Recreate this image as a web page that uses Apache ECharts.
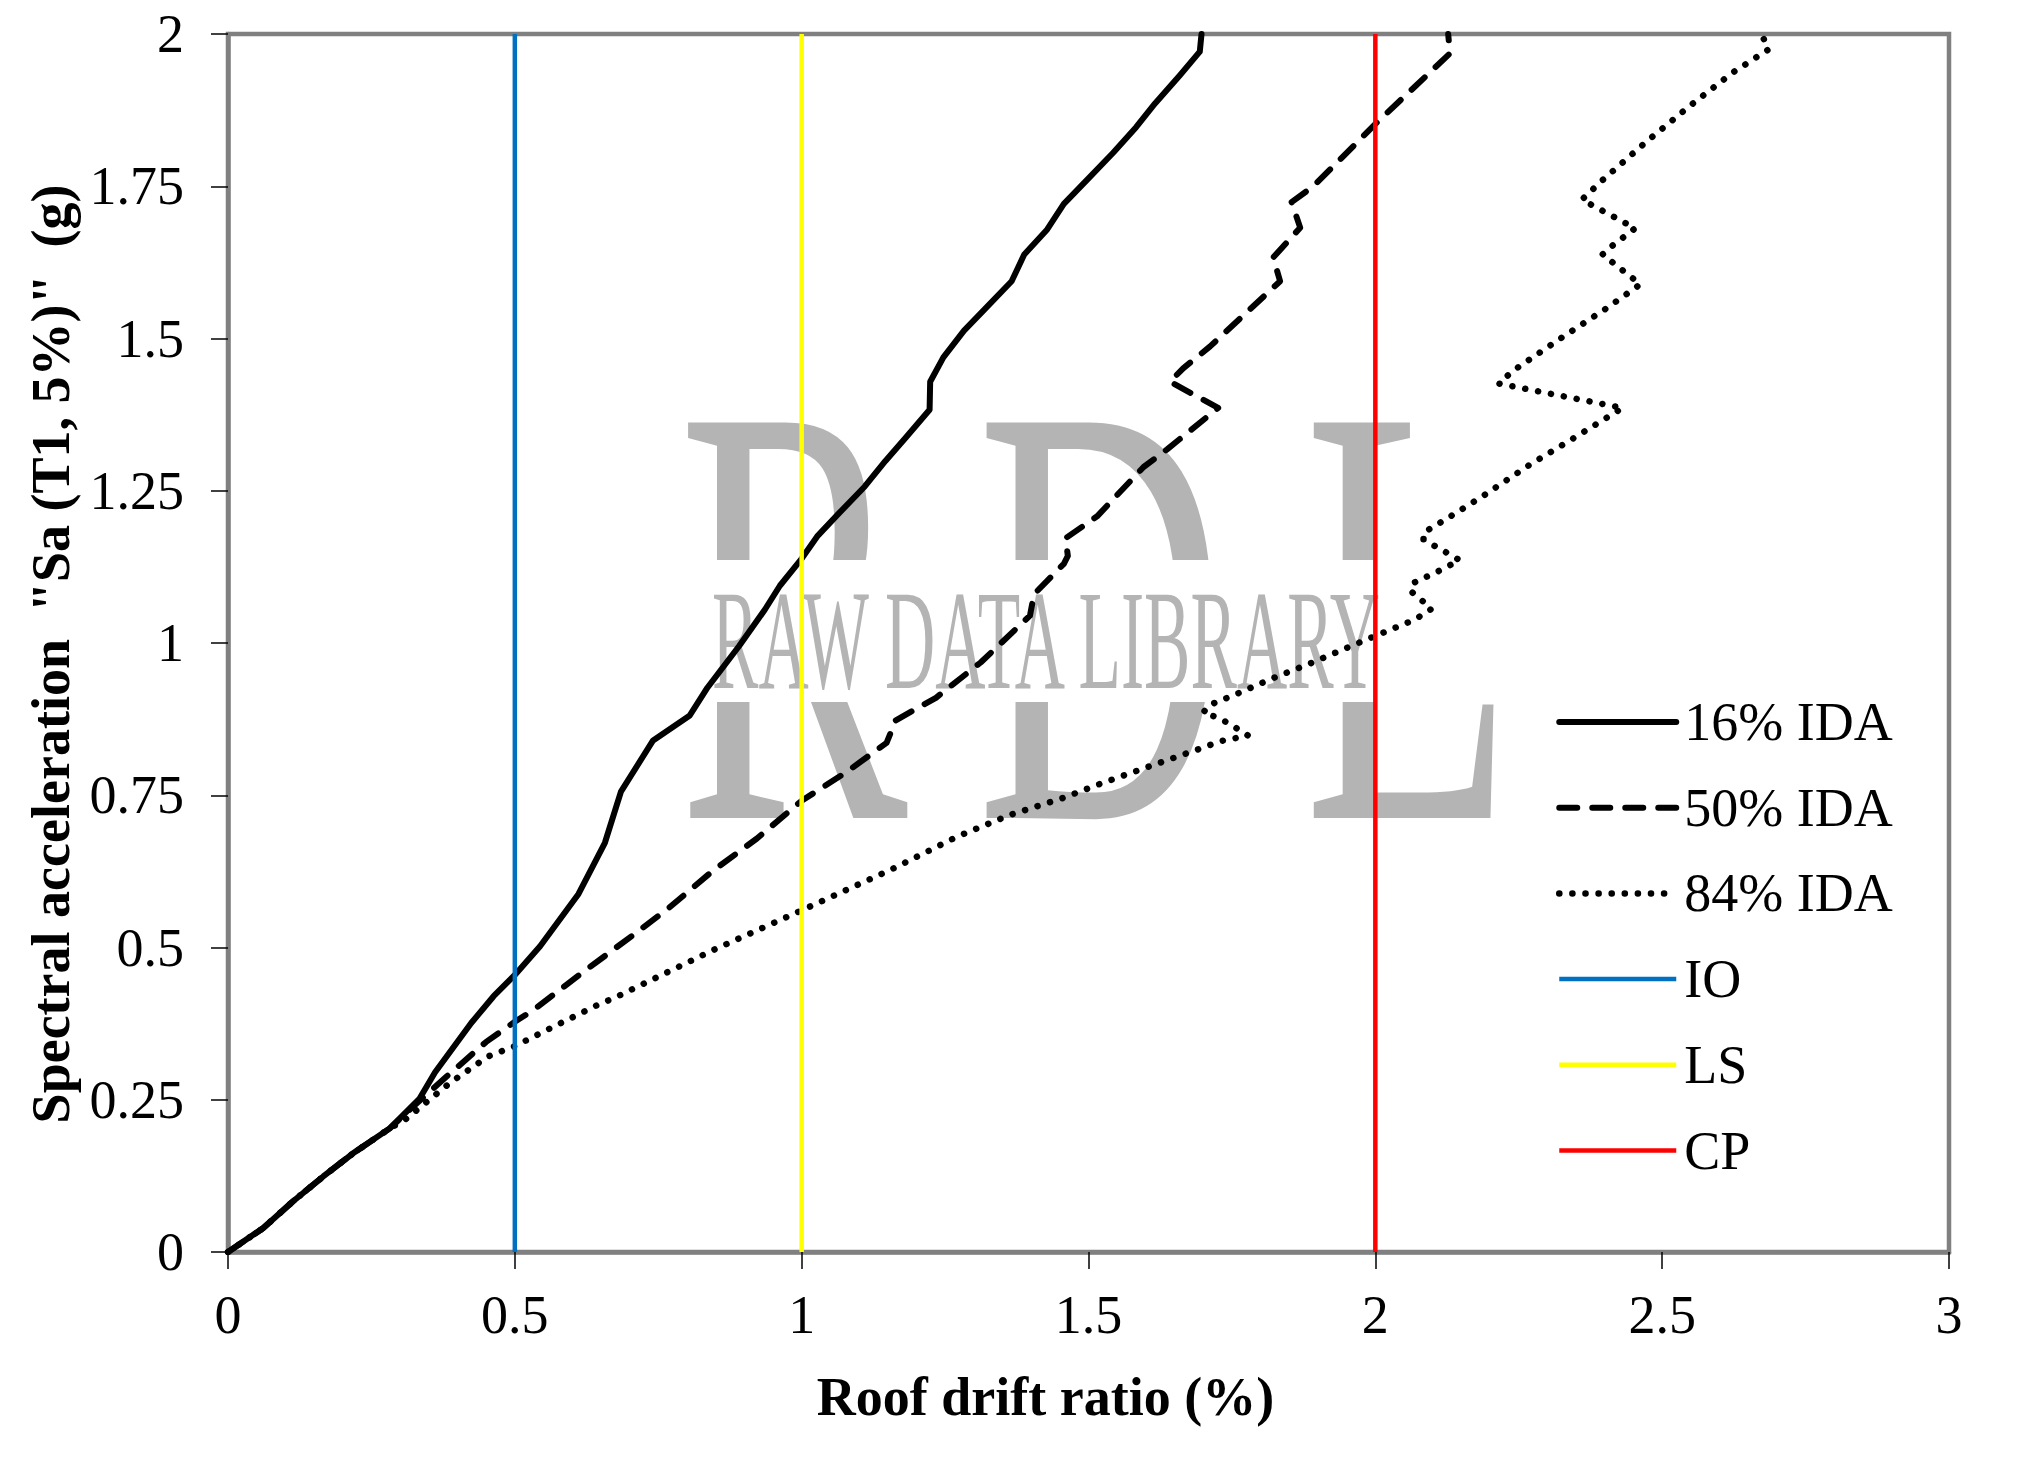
<!DOCTYPE html>
<html>
<head>
<meta charset="utf-8">
<script src="https://cdn.jsdelivr.net/npm/echarts@6/dist/echarts.min.js"></script>
<style>
html,body{margin:0;padding:0;background:#fff;}
#chart{width:2032px;height:1464px;}
</style>
</head>
<body>
<div id="chart"></div>
<script>
// Roof drift ratio (%) vs Sa (g)
const ida16 = [[0,0],[0.061,0.039],[0.113,0.083],[0.166,0.124],[0.218,0.162],[0.282,0.203],[0.334,0.252],[0.361,0.295],[0.424,0.376],[0.463,0.42],[0.5,0.455],[0.544,0.502],[0.611,0.588],[0.657,0.672],[0.685,0.756],[0.741,0.84],[0.805,0.881],[0.836,0.927],[0.891,0.995],[0.936,1.055],[0.962,1.094],[0.998,1.136],[1.027,1.175],[1.066,1.214],[1.11,1.257],[1.146,1.299],[1.182,1.338],[1.223,1.383],[1.224,1.429],[1.247,1.469],[1.283,1.513],[1.323,1.552],[1.366,1.594],[1.388,1.638],[1.428,1.679],[1.457,1.721],[1.5,1.763],[1.543,1.805],[1.583,1.847],[1.616,1.886],[1.659,1.932],[1.694,1.971],[1.697,2.0]];
const ida50 = [[0,0],[0.061,0.039],[0.113,0.083],[0.166,0.124],[0.218,0.162],[0.282,0.203],[0.33,0.245],[0.381,0.288],[0.45,0.345],[0.5,0.378],[0.532,0.397],[0.611,0.454],[0.704,0.519],[0.766,0.563],[0.844,0.625],[0.922,0.679],[1.0,0.741],[1.078,0.788],[1.148,0.836],[1.164,0.873],[1.234,0.91],[1.312,0.968],[1.398,1.045],[1.405,1.08],[1.457,1.13],[1.464,1.143],[1.46,1.172],[1.515,1.208],[1.596,1.289],[1.637,1.318],[1.726,1.386],[1.642,1.429],[1.665,1.451],[1.712,1.487],[1.834,1.594],[1.822,1.633],[1.869,1.682],[1.854,1.724],[1.892,1.75],[2.002,1.854],[2.13,1.968],[2.127,2.0]];
const ida84 = [[0,0],[0.061,0.039],[0.113,0.083],[0.166,0.124],[0.218,0.162],[0.282,0.203],[0.311,0.219],[0.386,0.277],[0.453,0.321],[0.5,0.338],[0.561,0.367],[0.645,0.406],[0.673,0.417],[0.844,0.495],[1.0,0.561],[1.156,0.628],[1.271,0.682],[1.364,0.718],[1.454,0.745],[1.524,0.77],[1.614,0.8],[1.684,0.823],[1.731,0.839],[1.778,0.848],[1.745,0.868],[1.721,0.879],[1.7,0.885],[1.708,0.897],[1.755,0.915],[1.821,0.942],[1.888,0.967],[1.978,1.003],[2.068,1.038],[2.098,1.056],[2.081,1.07],[2.062,1.085],[2.065,1.098],[2.11,1.118],[2.147,1.136],[2.127,1.147],[2.106,1.158],[2.084,1.17],[2.084,1.181],[2.126,1.205],[2.187,1.241],[2.268,1.292],[2.352,1.34],[2.431,1.386],[2.215,1.426],[2.24,1.447],[2.321,1.499],[2.402,1.549],[2.462,1.589],[2.396,1.638],[2.414,1.653],[2.453,1.681],[2.36,1.728],[2.396,1.76],[2.471,1.822],[2.547,1.881],[2.622,1.936],[2.686,1.975],[2.677,1.992],[2.657,2.0]];
const curveNames = ['16% IDA','50% IDA','84% IDA'];
const limitNames = ['IO','LS','CP'];
const limitDrifts = [0.5, 1, 2];
const saRange = [0, 2];
const xTitle = 'Roof drift ratio (%)';
const yTitle = 'Spectral acceleration  "Sa (T1, 5%)"  (g)';
const watermarkBig = ['R','D','L'];
const watermarkSmall = 'RAW DATA LIBRARY';

const FONT = '"Liberation Serif", "Times New Roman", serif';
const chart = echarts.init(document.getElementById('chart'), null, {renderer:'svg'});

const curveStyles = [
  {color:'#000', width:6, type:'solid', cap:'round', join:'round'},
  {color:'#000', width:6, type:[18,15], cap:'round', join:'round'},
  {color:'#000', width:6.5, type:[0.1,13], cap:'round', join:'round'}
];
const limitColors = ['#0070C0','#FFFF00','#FF0000'];

const series = [];
[ida16, ida50, ida84].forEach((d,i)=>{
  series.push({name:curveNames[i], type:'line', data:d, showSymbol:false, symbol:'none',
    lineStyle:curveStyles[i], itemStyle:{color:'#000'}, z:3, animation:false});
});
limitDrifts.forEach((v,i)=>{
  series.push({name:limitNames[i], type:'line', data:[[v,saRange[0]],[v,saRange[1]]], showSymbol:false, symbol:'none',
    lineStyle:{color:limitColors[i], width:4.5}, itemStyle:{color:limitColors[i]}, z:4, animation:false});
});

const legendData = curveNames.map((n,i)=>({name:n,
    lineStyle:{width:curveStyles[i].width, type:curveStyles[i].type, cap:'round', color:'#000'},
    itemStyle:{opacity:0}}))
  .concat(limitNames.map((n,i)=>({name:n,
    lineStyle:{width:4.5, color:limitColors[i]}, itemStyle:{opacity:0}})));

const wmColor = '#b4b4b4';
const bigX = [793, 1101, 1409];
const graphicEls = watermarkBig.map((t,i)=>({
  type:'text', x:bigX[i], y:614, scaleX:0.57, z:1, silent:true,
  style:{text:t, font:'604px '+FONT, fill:wmColor, textAlign:'center', textVerticalAlign:'middle'}
}));
graphicEls.push({type:'rect', z:1, silent:true, shape:{x:670,y:560,width:730,height:142}, style:{fill:'#fff'}});
graphicEls.push({type:'text', x:1046, y:640, scaleX:0.49, z:1, silent:true,
  style:{text:watermarkSmall, font:'142px '+FONT, fill:wmColor, textAlign:'center', textVerticalAlign:'middle'}});

const option = {
  animation:false,
  backgroundColor:'#fff',
  grid:{left:228, right:83, top:34, bottom:212, show:true, borderColor:'#808080', borderWidth:4.5, backgroundColor:'transparent'},
  xAxis:{type:'value', min:0, max:3, interval:0.5,
    name:xTitle, nameLocation:'middle', nameGap:118,
    nameTextStyle:{fontFamily:FONT, fontSize:54, fontWeight:'bold', color:'#000', padding:[0,86,0,0]},
    axisLine:{show:true, onZero:false, lineStyle:{color:'#808080', width:4.5}},
    axisTick:{show:true, length:17, lineStyle:{color:'#000', width:1.5}},
    axisLabel:{fontFamily:FONT, fontSize:54, color:'#000', margin:36},
    splitLine:{show:false}},
  yAxis:{type:'value', min:0, max:2, interval:0.25,
    name:yTitle, nameLocation:'middle', nameGap:150,
    nameTextStyle:{fontFamily:FONT, fontSize:54, fontWeight:'bold', color:'#000', padding:[0,22,0,0]},
    axisLine:{show:true, onZero:false, lineStyle:{color:'#808080', width:4.5}},
    axisTick:{show:true, length:17, lineStyle:{color:'#000', width:1.5}},
    axisLabel:{fontFamily:FONT, fontSize:54, color:'#000', margin:44},
    splitLine:{show:false}},
  legend:{show:true, orient:'vertical', left:1551, top:690, itemWidth:117, itemHeight:14, itemGap:31.7,
    data:legendData,
    textStyle:{fontFamily:FONT, fontSize:54, color:'#000', lineHeight:54, padding:[0,0,0,3]},
    backgroundColor:'transparent'},
  graphic:{elements:graphicEls},
  series:series
};
chart.setOption(option);
</script>
</body>
</html>
